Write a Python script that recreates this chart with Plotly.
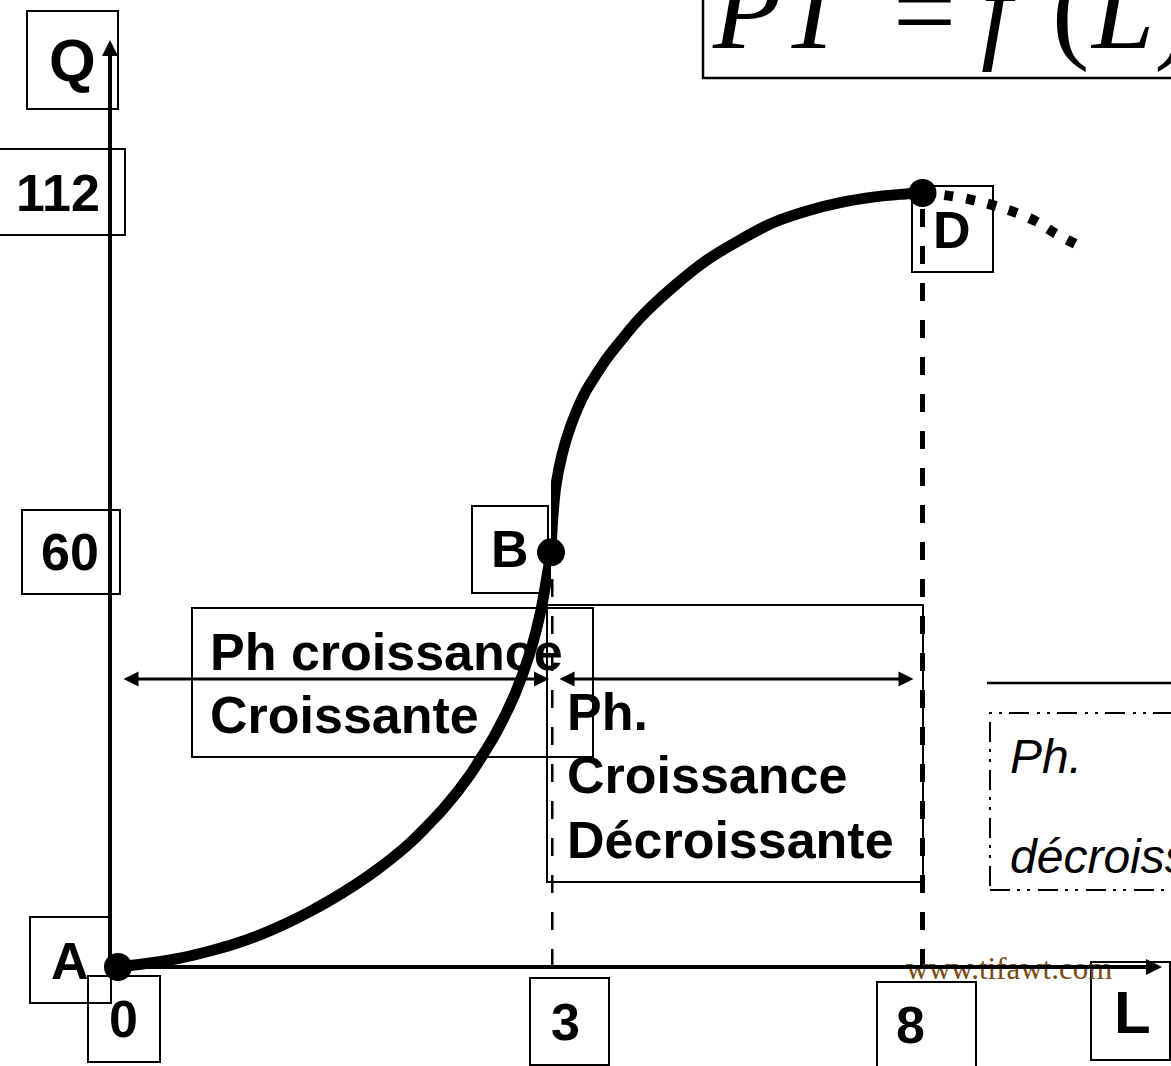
import plotly.graph_objects as go

W, H = 1171, 1066

# ---------------- data ----------------
# rising part of the total-product curve, A -> B (increasing returns)
L_RISE = [0, 0.222, 0.43, 0.637, 0.811, 0.984, 1.157, 1.33, 1.559, 1.794, 2.023, 2.252,
          2.439, 2.612, 2.751, 2.855, 2.931, 2.972, 3]
Q_RISE = [0, 0.58, 1.3, 2.32, 3.35, 4.65, 6.22, 8.03, 10.78, 14.08, 17.94, 22.83,
          27.81, 33.6, 39.53, 45.51, 51.71, 56.53, 60]
# B -> D (diminishing returns)
L_SLOW = [3, 3.02, 3.067, 3.148, 3.269, 3.458, 3.754, 4.198, 4.642, 5.1, 5.544, 5.988,
          6.446, 6.89, 7.334, 7.698, 8]
Q_SLOW = [60, 64.4, 69.7, 74.1, 78.4, 83.1, 88.1, 93.9, 98.4, 102.3, 105.2, 107.7,
          109.4, 110.6, 111.4, 111.8, 112]
# beyond D (dotted, decreasing)
L_FALL = [8, 8.29, 8.71, 9.11, 9.51, 9.78, 10.12]
Q_FALL = [112, 111.7, 110.9, 109.7, 108.0, 106.2, 104.3]

POINT_NAMES = ["A", "B", "D"]
POINT_L = [0, 3, 8]
POINT_Q = [0, 60, 112]

L_TICKS = [0, 3, 8]
L_TICK_TEXT = ["0", "3", "8"]
Q_TICKS = [60, 112]
Q_TICK_TEXT = ["60", "112"]

PHASE_BOUNDS = [0, 3, 8]
PHASE1_TEXT = ["Ph croissance", "Croissante"]
PHASE2_TEXT = ["Ph.", "Croissance", "Décroissante"]
PHASE3_TEXT = ["Ph.", "décroissante"]
AXIS_X_NAME = "L"
AXIS_Y_NAME = "Q"
WATERMARK = "www.tifawt.com"

# ---------------- helpers ----------------
def PX(x):
    return x / W


def PY(y):
    return 1 - y / H


BLACK = "black"
SANS = "Liberation Sans"
SERIF = "Liberation Serif"

# split schematic x scale: 0..3 and 3..8 are drawn with different spacing
X_SPLIT = 551 / W
K1 = (551 - 118) / 3.0          # px per unit of L on first part
K2 = (922.5 - 551) / 5.0        # px per unit of L on second part
Y0PX, KY = 967, (967 - 193) / 112.0

fig = go.Figure()

# dashed drop lines from B and D (drawn first, under the curve)
dash_line = dict(color=BLACK, width=5, dash="18px,19px")
fig.add_trace(go.Scatter(x=[POINT_L[1], POINT_L[1]], y=[0, POINT_Q[1]], mode="lines",
                         line=dash_line, xaxis="x2", yaxis="y", cliponaxis=False,
                         hoverinfo="skip"))
fig.add_trace(go.Scatter(x=[POINT_L[2], POINT_L[2]], y=[0, POINT_Q[2]], mode="lines",
                         line=dash_line, xaxis="x2", yaxis="y", cliponaxis=False,
                         hoverinfo="skip"))

line_style = dict(color=BLACK, width=11, shape="spline", smoothing=0.6)
fig.add_trace(go.Scatter(x=L_RISE, y=Q_RISE, mode="lines", line=line_style,
                         xaxis="x", yaxis="y", cliponaxis=False, hoverinfo="skip"))
fig.add_trace(go.Scatter(x=L_SLOW, y=Q_SLOW, mode="lines", line=line_style,
                         xaxis="x2", yaxis="y", cliponaxis=False, hoverinfo="skip"))
fig.add_trace(go.Scatter(x=L_FALL, y=Q_FALL, mode="lines",
                         line=dict(color=BLACK, width=10, dash="9px,13px", shape="spline"),
                         xaxis="x2", yaxis="y", cliponaxis=False, hoverinfo="skip"))
# points A, B (first scale) and D (second scale)
fig.add_trace(go.Scatter(x=POINT_L[:2], y=POINT_Q[:2], mode="markers",
                         marker=dict(color=BLACK, size=28), xaxis="x", yaxis="y",
                         cliponaxis=False, hoverinfo="skip"))
fig.add_trace(go.Scatter(x=POINT_L[2:], y=POINT_Q[2:], mode="markers",
                         marker=dict(color=BLACK, size=28), xaxis="x2", yaxis="y",
                         cliponaxis=False, hoverinfo="skip"))

shapes = []


def box(x0, y0, x1, y1, width=2, dash=None):
    ln = dict(color=BLACK, width=width)
    if dash:
        ln["dash"] = dash
    shapes.append(dict(type="rect", xref="paper", yref="paper",
                       x0=PX(x0), x1=PX(x1), y0=PY(y1), y1=PY(y0),
                       line=ln, fillcolor="rgba(0,0,0,0)", layer="above"))


# label boxes
box(27, 11, 118, 109)       # Q
box(-5, 149, 125, 235)      # 112
box(22, 510, 120, 594)      # 60
box(30, 917, 111, 1003)     # A
box(88, 976, 160, 1062)     # 0
box(530, 978, 609, 1065)    # 3
box(877, 982, 976, 1072)    # 8
box(1091, 962, 1170, 1060)  # L
box(472, 506, 548, 593)     # B
box(912, 186, 993, 272)     # D
# phase text boxes
box(192, 608, 593, 757)
box(547, 605, 923, 882)
box(990, 713, 1185, 890, dash="20px,7px,3px,7px,3px,8px")
# title box
box(703, -10, 1185, 78, width=2.5)
# separator line on the right
shapes.append(dict(type="line", xref="paper", yref="paper", x0=PX(987), x1=PX(1180),
                   y0=PY(683), y1=PY(683), line=dict(color=BLACK, width=2.5)))

ann = []


def txt(text, x, y, size, xanchor="center", family=SANS, color=BLACK, **kw):
    d = dict(text=text, x=x, y=y, xanchor=xanchor, yanchor="middle",
             showarrow=False, font=dict(family=family, size=size, color=color))
    d.setdefault("xref", "paper")
    d.setdefault("yref", "paper")
    d.update(kw)
    ann.append(d)


def ptxt(text, px, py, size, xanchor="center", family=SANS, color=BLACK):
    txt(text, PX(px), PY(py), size, xanchor=xanchor, family=family, color=color)


# axis names
ptxt("<b>%s</b>" % AXIS_Y_NAME, 72, 60, 60)
ptxt("<b>%s</b>" % AXIS_X_NAME, 1132, 1012, 60)

# L tick labels (placed from the data scale)
l_shift = [(5, -52), (14, -55), (-12, -58)]
l_ref = ["x", "x2", "x2"]
for v, t, xr, (dx, dy) in zip(L_TICKS, L_TICK_TEXT, l_ref, l_shift):
    txt("<b>%s</b>" % t, v, 0, 52, xref=xr, yref="y", xshift=dx, yshift=dy)

# Q tick labels
q_x = [70, 57.5]
for v, t, xp in zip(Q_TICKS, Q_TICK_TEXT, q_x):
    txt("<b>%s</b>" % t, PX(xp), v, 52, yref="y")

# point names
p_shift = [(-48.5, 6), (-41, 3), (29, -37)]
p_ref = ["x", "x2", "x2"]
for name, lv, qv, xr, (dx, dy) in zip(POINT_NAMES, POINT_L, POINT_Q, p_ref, p_shift):
    txt("<b>%s</b>" % name, lv, qv, 52, xref=xr, yref="y", xshift=dx, yshift=dy)

# phase texts
for t, yy in zip(PHASE1_TEXT, [652, 715]):
    ptxt("<b>%s</b>" % t, 208, yy, 52, xanchor="left")
for t, yy in zip(PHASE2_TEXT, [712, 775, 840]):
    ptxt("<b>%s</b>" % t, 565, yy, 52, xanchor="left")
for t, yy in zip(PHASE3_TEXT, [756, 856]):
    ptxt("<i>%s</i>" % t, 1008, yy, 48, xanchor="left")

# title  PT = f(L)
TS = 112
ptxt("<i>PT</i>", 710, 10, TS, xanchor="left", family=SERIF)
ptxt("=", 924, 10, TS, family=SERIF)
ptxt("<i>f</i>", 1003, 10, TS, family=SERIF)
ptxt("(", 1070, 10, TS, family=SERIF)
ptxt("<i>L</i>)", 1088, 10, TS, xanchor="left", family=SERIF)

# watermark
ptxt(WATERMARK, 1009, 968, 31, family=SERIF, color="#7a4b14")

# axes with arrow heads
ann.append(dict(xref="paper", yref="paper", x=PX(110), y=PY(40), axref="pixel", ayref="pixel",
                ax=0, ay=927, text="", showarrow=True, arrowhead=2, arrowsize=0.8,
                arrowwidth=4, arrowcolor=BLACK))
ann.append(dict(xref="paper", yref="paper", x=PX(1162), y=PY(967), axref="pixel", ayref="pixel",
                ax=-1052, ay=0, text="", showarrow=True, arrowhead=2, arrowsize=0.8,
                arrowwidth=4, arrowcolor=BLACK))

# phase range double arrows
ARROW_Q = 41.66
ann.append(dict(xref="x", yref="y", x=PHASE_BOUNDS[1], y=ARROW_Q, axref="x", ayref="y",
                ax=PHASE_BOUNDS[0], ay=ARROW_Q, text="", showarrow=True, arrowside="end+start",
                arrowhead=2, startarrowhead=2, arrowsize=1, startarrowsize=1,
                arrowwidth=3, arrowcolor=BLACK, standoff=2, startstandoff=4))
ann.append(dict(xref="x2", yref="y", x=PHASE_BOUNDS[2], y=ARROW_Q, axref="x2", ayref="y",
                ax=PHASE_BOUNDS[1], ay=ARROW_Q, text="", showarrow=True, arrowside="end+start",
                arrowhead=2, startarrowhead=2, arrowsize=1, startarrowsize=1,
                arrowwidth=3, arrowcolor=BLACK, standoff=9, startstandoff=7))

fig.update_layout(
    width=W, height=H, autosize=False,
    margin=dict(l=0, r=0, t=0, b=0, pad=0),
    paper_bgcolor="white", plot_bgcolor="rgba(0,0,0,0)",
    showlegend=False,
    xaxis=dict(domain=[0, X_SPLIT], range=[-118 / K1, 3], visible=False, fixedrange=True),
    xaxis2=dict(domain=[X_SPLIT, 1], range=[3, 3 + (W - 551) / K2], visible=False,
                anchor="y", fixedrange=True),
    yaxis=dict(domain=[0, 1], range=[-(H - Y0PX) / KY, Y0PX / KY], visible=False,
               fixedrange=True),
    shapes=shapes,
    annotations=ann,
)

fig.write_html("out.html", config={"displayModeBar": False},
               post_script="document.body.style.margin='0';document.body.style.overflow='hidden';")
